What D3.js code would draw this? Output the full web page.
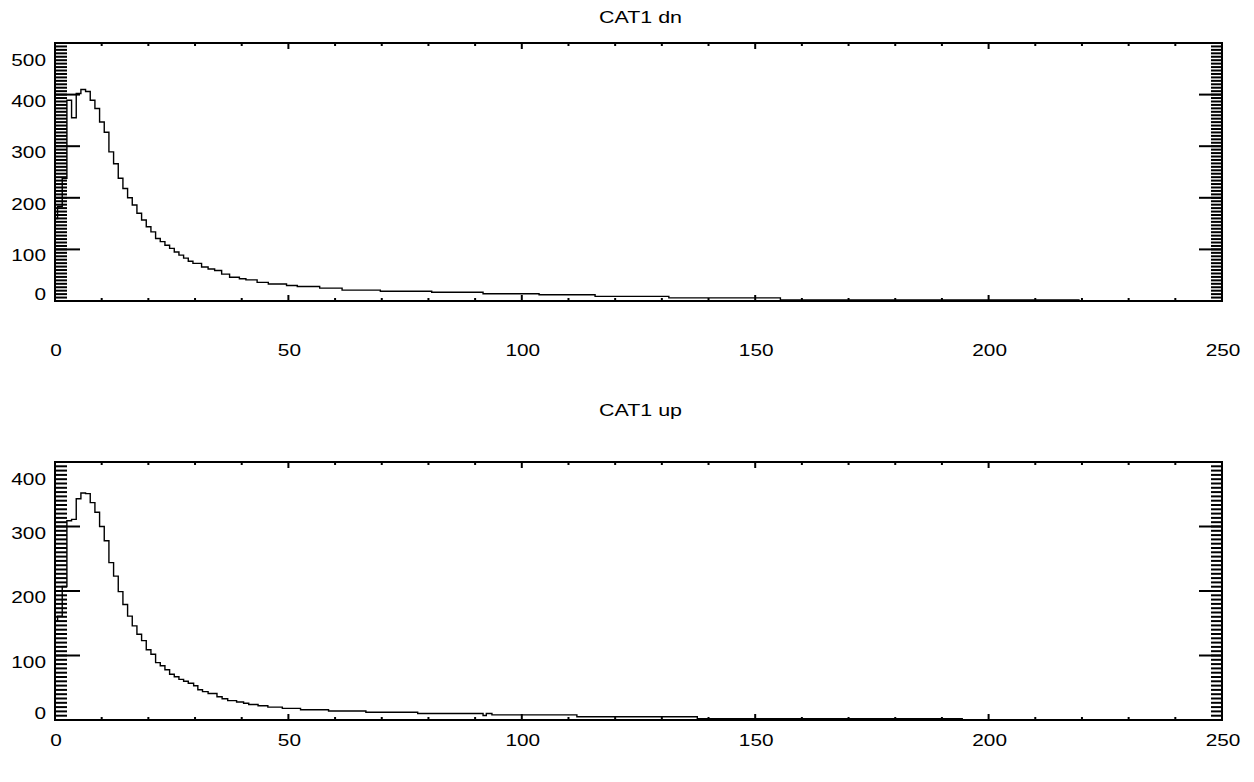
<!DOCTYPE html>
<html>
<head>
<meta charset="utf-8">
<script src="https://cdn.jsdelivr.net/npm/d3@7"></script>
<style>
  body { margin: 0; background: #fff; }
  svg { display: block; }
  text { font-family: "Liberation Sans", Arial, sans-serif; fill: #000; }
</style>
</head>
<body>
<svg id="chart" width="1254" height="782"></svg>
<script>
// histogram steps: left edge of each step (x) and its height (count)
const dnX = [0, 0.55, 1.55, 2.55, 3.55, 4.55, 5.55, 6.55, 7.55, 8.55, 9.55, 10.55, 11.55, 12.55, 13.55,
  14.55, 15.55, 16.55, 17.55, 18.55, 19.55, 20.55, 21.55, 22.55, 23.55, 24.55, 25.55, 26.55, 27.55, 28.55,
  29.55, 31.4, 32.8, 34.2, 35.7, 37.4, 39.5, 40.9, 43.3, 45.7, 49.6, 51.9, 56.7, 61.5, 69.7, 80.7, 91.7,
  103.7, 115.7, 131.5, 155.4];
const dnY = [160, 183, 238, 389, 355, 402, 410, 406, 389, 373, 347, 327, 289, 266, 238,
  218, 200, 186, 170, 157, 144, 134, 121, 115, 108, 102, 95, 89, 83, 77,
  73, 66, 62, 59, 52, 46, 43, 41, 36, 33, 30, 28, 25, 21, 19, 17, 14,
  12, 9, 6, 2];
const dnEnd = 219.5;

const upX = [0, 0.55, 1.55, 2.55, 3.55, 4.55, 5.55, 6.55, 7.55, 8.55, 9.55, 10.55, 11.55, 12.55, 13.55,
  14.55, 15.55, 16.55, 17.55, 18.55, 19.55, 20.55, 21.55, 22.55, 23.55, 24.55, 25.55, 26.55, 27.55, 28.55,
  29.7, 30.6, 31.6, 32.8, 34.7, 35.8, 37.0, 38.9, 40.4, 41.5, 43.5, 45.6, 48.7, 52.6, 58.6, 66.6, 77.7,
  91.7, 92.4, 93.6, 111.8, 137.6];
const upY = [153, 161, 207, 309, 311, 343, 352, 351, 337, 322, 300, 278, 244, 223, 199,
  179, 161, 146, 133, 123, 109, 102, 89, 84, 78, 71, 67, 63, 60, 57,
  53, 47, 44, 41, 36, 33, 30, 28, 26, 24, 22, 20, 18, 16, 14, 12, 10,
  7, 10, 8, 5, 2];
const upEnd = 194.5;

const xTicks = [0, 50, 100, 150, 200, 250];
const dnTicks = [0, 100, 200, 300, 400, 500];
const upTicks = [0, 100, 200, 300, 400];
const yMinorPerMajor = 15;

const svg = d3.select("#chart");
const left = 55, right = 1222;

// stretched label like the IDL device font
function label(g, x, y, txt, anchor, size) {
  g.append("text")
    .attr("transform", `translate(${x},${y}) scale(1.3,1)`)
    .attr("text-anchor", anchor)
    .attr("font-size", size || 16)
    .text(txt);
}

function panel(opt) {
  const g = svg.append("g");
  const x = d3.scaleLinear().domain([0, 250]).range([left, right]);
  const y = d3.scaleLinear().domain([0, opt.ymax]).range([opt.bottom, opt.top]);

  label(g, (left + right) / 2 + 2, opt.titleY, opt.title, "middle", 16.5);

  // histogram line
  const pts = opt.xs.map((d, i) => [d, opt.ys[i]]);
  pts.push([opt.end, opt.ys[opt.ys.length - 1]]);
  const line = d3.line().x(d => x(d[0])).y(d => y(d[1])).curve(d3.curveStepAfter);
  g.append("path").datum(pts)
    .attr("fill", "none").attr("stroke", "#000").attr("stroke-width", 1.4)
    .attr("d", line);

  // ticks
  const minorX = d3.range(0, 251, 10);
  const nMinor = (opt.ticks.length - 1) * yMinorPerMajor;
  const minorY = d3.range(0, nMinor + 1).map(i => i * opt.ymax / nMinor);
  const tk = g.append("g").attr("stroke", "#000").attr("stroke-width", 2);
  tk.selectAll(".ym").data(minorY).join("line")
    .attr("x1", left).attr("x2", left + 12)
    .attr("y1", d => y(d)).attr("y2", d => y(d));
  tk.selectAll(".ymr").data(minorY).join("line")
    .attr("x1", right - 11).attr("x2", right)
    .attr("y1", d => y(d)).attr("y2", d => y(d));
  tk.selectAll(".yM").data(opt.ticks).join("line")
    .attr("x1", left).attr("x2", left + 25)
    .attr("y1", d => y(d)).attr("y2", d => y(d));
  tk.selectAll(".yMr").data(opt.ticks).join("line")
    .attr("x1", right - 23).attr("x2", right)
    .attr("y1", d => y(d)).attr("y2", d => y(d));
  tk.selectAll(".xm").data(minorX).join("line")
    .attr("x1", d => x(d)).attr("x2", d => x(d))
    .attr("y1", opt.bottom).attr("y2", d => opt.bottom - (d % 50 ? 3 : 6));
  tk.selectAll(".xmt").data(minorX).join("line")
    .attr("x1", d => x(d)).attr("x2", d => x(d))
    .attr("y1", opt.top).attr("y2", d => opt.top + (d % 50 ? 3 : 6));

  // frame
  g.append("rect")
    .attr("x", left).attr("y", opt.top)
    .attr("width", right - left).attr("height", opt.bottom - opt.top)
    .attr("fill", "none").attr("stroke", "#000").attr("stroke-width", 2);

  // y labels (IDL nudges the end labels inward)
  opt.ticks.forEach((t, i) => {
    let dy = 6.5 + 5.5;
    if (i === 0) dy = -6.5 + 5.5;
    if (i === opt.ticks.length - 1) dy = 17 + 5.5;
    label(g, 46, y(t) + dy, t, "end");
  });
  xTicks.forEach(t => label(g, x(t) + 1, opt.xLabelY, t, "middle"));
}

panel({ title: "CAT1 dn", top: 43, bottom: 301, ymax: 500,
  titleY: 23, xLabelY: 356, ticks: dnTicks, xs: dnX, ys: dnY, end: dnEnd });
panel({ title: "CAT1 up", top: 462, bottom: 720, ymax: 400,
  titleY: 416, xLabelY: 746, ticks: upTicks, xs: upX, ys: upY, end: upEnd });
</script>
</body>
</html>
